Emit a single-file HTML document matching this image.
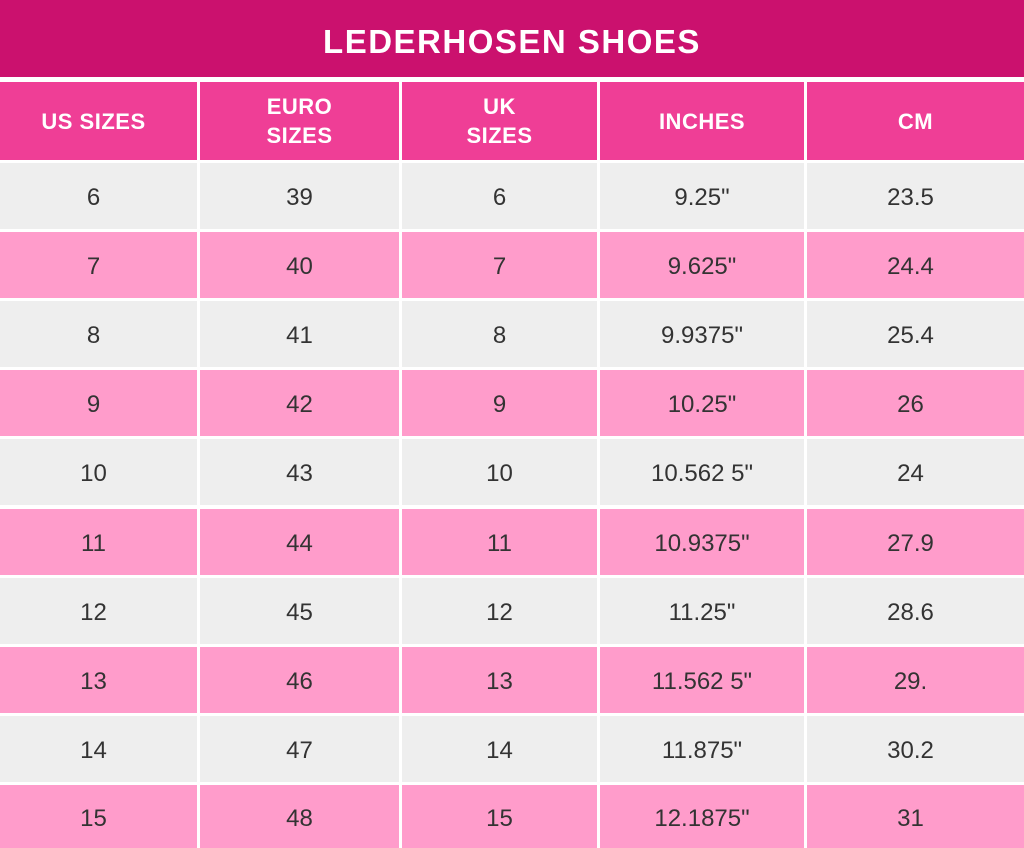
<!DOCTYPE html>
<html><head><style>
body{margin:0;width:1024px;height:848px;background:#fff;position:relative;overflow:hidden;font-family:"Liberation Sans",sans-serif}
div.c{position:absolute;display:flex;align-items:center;justify-content:center;text-align:center;box-sizing:border-box}
.t{left:0;top:0;width:1024px;height:77px;background:#cb116e;color:#fff;font-weight:bold;font-size:33px;letter-spacing:1.5px;padding-top:6px}
.h{background:#ef3e96;color:#fff;font-weight:bold;font-size:22px;line-height:29px;letter-spacing:0.5px}
.g{background:#eeeeee;color:#333;font-size:24px;padding-top:4px}
.p{background:#ff9ccb;color:#333;font-size:24px;padding-top:4px}
</style></head><body>
<div class="c t">LEDERHOSEN SHOES</div>
<div id="r"></div>
<script>
var X=[[0,197],[200,399],[402,597],[600,804],[807,1024]];
var H=["US SIZES","EURO<br>SIZES","UK<br>SIZES","INCHES","CM"];
var D=[["6","39","6","9.25\"","23.5"],["7","40","7","9.625\"","24.4"],["8","41","8","9.9375\"","25.4"],["9","42","9","10.25\"","26"],["10","43","10","10.562 5\"","24"],["11","44","11","10.9375\"","27.9"],["12","45","12","11.25\"","28.6"],["13","46","13","11.562 5\"","29."],["14","47","14","11.875\"","30.2"],["15","48","15","12.1875\"","31"]];
var s="";
function cell(cls,x,y,w,h,t,pl){s+='<div class="c '+cls+'" style="left:'+x+'px;top:'+y+'px;width:'+w+'px;height:'+h+'px;'+(pl?'padding-right:10px':'')+'">'+t+'</div>';}
for(var j=0;j<5;j++)cell("h",X[j][0],82,X[j][1]-X[j][0],78,H[j],j==0);
for(var i=0;i<10;i++){var y=Math.round(163+69.1*i);var h=(i==9)?848-y:66;
for(var j=0;j<5;j++)cell(i%2?"p":"g",X[j][0],y,X[j][1]-X[j][0],h,D[i][j],j==0||j==4);}
document.getElementById("r").innerHTML=s;
</script>
</body></html>
